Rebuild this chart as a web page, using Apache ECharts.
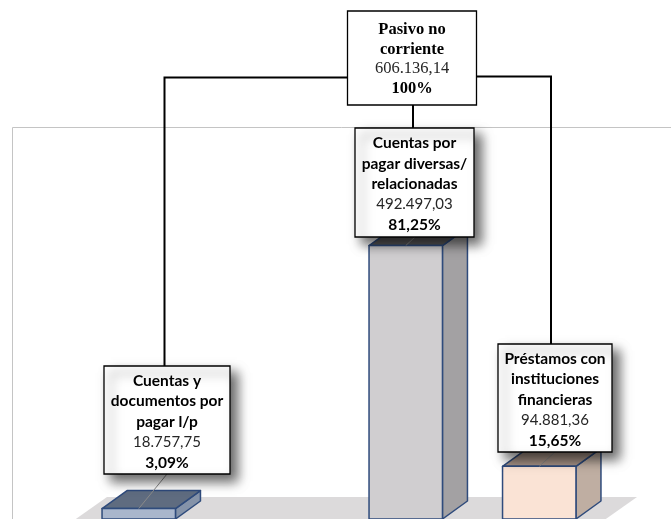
<!DOCTYPE html>
<html>
<head>
<meta charset="utf-8">
<style>
  html, body { margin: 0; padding: 0; background: #fff; }
  #main { width: 671px; height: 519px; }
</style>
</head>
<body>
<div id="main"></div>
<script src="https://cdn.jsdelivr.net/npm/echarts@6/dist/echarts.min.js"></script>
<script>
// datos (el hueco en la posicion 1 es una categoria vacia)
const categories = ['Cuentas y\ndocumentos por\npagar l/p', '', 'Cuentas por\npagar diversas/\nrelacionadas', 'Préstamos con\ninstituciones\nfinancieras'];
const values = [18757.75, null, 492497.03, 94881.36];
const valueLabels = ['18.757,75', '', '492.497,03', '94.881,36'];
const percentLabels = ['3,09%', '', '81,25%', '15,65%'];
const totalName = 'Pasivo no\ncorriente';
const totalLabel = '606.136,14';
const totalPercent = '100%';

// colores de cada barra: frente, tapa, lateral
const barColors = [
  ['#a9b6cc', '#5f6c80', '#8593a9'],
  null,
  ['#d0ced0', '#5b5a5b', '#a3a1a3'],
  ['#fae3d5', '#a89488', '#bfaea2']
];
// cajas: x, y, ancho, alto y punto donde nace la linea hacia la barra
const boxes = [
  { x: 104, y: 366, w: 126, h: 108, leaderX: 167 },
  null,
  { x: 355, y: 128, w: 119, h: 109, leaderX: 415 },
  { x: 498, y: 344, w: 114, h: 108, leaderX: 555 }
];
const DEPTH_X = 25, DEPTH_Y = 18;
const EDGE = '#2f4b7c';

function renderBar(params, api) {
  const i = api.value(0);
  const v = api.value(1);
  if (isNaN(v)) return;
  const top = api.coord([i, v]);
  const base = api.coord([i, 0]);
  const w = api.size([1, 0])[0] * 0.55;
  const x0 = top[0] - w / 2, x1 = top[0] + w / 2;
  const y0 = top[1], y1 = base[1];
  const c = barColors[i];
  const edge = { stroke: EDGE, lineWidth: 1.5, lineJoin: 'round' };
  const box = boxes[i];
  return {
    type: 'group',
    children: [
      { type: 'polygon', shape: { points: [[x1, y0], [x1 + DEPTH_X, y0 - DEPTH_Y], [x1 + DEPTH_X, y1 - DEPTH_Y], [x1, y1]] }, style: { fill: c[2], ...edge } },
      { type: 'polygon', shape: { points: [[x0, y0], [x0 + DEPTH_X, y0 - DEPTH_Y], [x1 + DEPTH_X, y0 - DEPTH_Y], [x1, y0]] }, style: { fill: c[1], ...edge } },
      { type: 'rect', shape: { x: x0, y: y0, width: w, height: y1 - y0 }, style: { fill: c[0], ...edge } },
      // linea guia de la etiqueta
      { type: 'line', shape: { x1: box.leaderX, y1: box.y + box.h, x2: top[0], y2: y0 }, style: { stroke: '#8a8a8a', lineWidth: 1 } }
    ]
  };
}

function boxGraphic(box, text, rich, nudge) {
  return {
    type: 'group',
    z: 10,
    children: [
      {
        type: 'rect',
        z: 10,
        shape: { x: box.x, y: box.y, width: box.w, height: box.h },
        style: { fill: '#fff', stroke: '#000', lineWidth: 1.3, shadowBlur: 11, shadowOffsetX: 7, shadowOffsetY: 7, shadowColor: box.shadow === false ? 'transparent' : 'rgba(0,0,0,0.6)' }
      },
      {
        type: 'text',
        z: 11,
        x: box.x + box.w / 2,
        y: box.y + box.h / 2 + nudge,
        style: { text: text, rich: rich, align: 'center', verticalAlign: 'middle' }
      }
    ]
  };
}

function richText(name, value, percent) {
  const lines = name.split('\n').map(function (s) { return '{n|' + s + '}'; });
  lines.push('{v|' + value + '}');
  lines.push('{p|' + percent + '}');
  return lines.join('\n');
}

const sansRich = {
  n: { fontFamily: 'Lato', fontWeight: 'bold', fontSize: 15.5, lineHeight: 20.5, fill: '#000', align: 'center' },
  v: { fontFamily: 'Lato', fontSize: 15, lineHeight: 20.5, fill: '#262626', align: 'center' },
  p: { fontFamily: 'Lato', fontWeight: 'bold', fontSize: 15.5, lineHeight: 20.5, fill: '#000', align: 'center' }
};
const serifRich = {
  n: { fontFamily: 'Liberation Serif', fontWeight: 'bold', fontSize: 16.5, lineHeight: 19.5, fill: '#000', align: 'center' },
  v: { fontFamily: 'Liberation Serif', fontSize: 16.5, lineHeight: 19.5, fill: '#262626', align: 'center' },
  p: { fontFamily: 'Liberation Serif', fontWeight: 'bold', fontSize: 16.5, lineHeight: 19.5, fill: '#000', align: 'center' }
};

const graphics = [
  // suelo
  { type: 'polygon', z: 0, shape: { points: [[107, 497], [637, 497], [603, 521], [73, 521]] }, style: { fill: '#dcdadb' } },
  // marco del area
  { type: 'polyline', z: 0, shape: { points: [[12.5, 521], [12.5, 127.5], [671, 127.5]] }, style: { fill: 'none', stroke: '#c4c4c4', lineWidth: 1 } },
  // conectores del organigrama
  { type: 'polyline', z: 9, shape: { points: [[348, 77.5], [164.5, 77.5], [164.5, 366]] }, style: { fill: 'none', stroke: '#000', lineWidth: 2 } },
  { type: 'polyline', z: 9, shape: { points: [[476, 76.5], [551, 76.5], [551, 344]] }, style: { fill: 'none', stroke: '#000', lineWidth: 2 } },
  { type: 'line', z: 9, shape: { x1: 413, y1: 105, x2: 413, y2: 128 }, style: { stroke: '#000', lineWidth: 2 } },
  boxGraphic({ x: 347.5, y: 11, w: 129, h: 94, shadow: false }, richText(totalName, totalLabel, totalPercent), serifRich, 1)
];
boxes.forEach(function (box, i) {
  if (box) graphics.push(boxGraphic(box, richText(categories[i], valueLabels[i], percentLabels[i]), sansRich, 1.5));
});

const myChart = echarts.init(document.getElementById('main'));
myChart.setOption({
  animation: false,
  backgroundColor: '#fff',
  grid: { left: 72, top: 127, width: 534, height: 393.5 },
  xAxis: { type: 'category', data: categories, show: false },
  yAxis: { type: 'value', min: 0, max: 706000, show: false },
  graphic: graphics,
  series: [{
    type: 'custom',
    z: 2,
    renderItem: renderBar,
    encode: { x: 0, y: 1 },
    data: values.map(function (v, i) { return [i, v]; })
  }]
});
</script>
</body>
</html>
